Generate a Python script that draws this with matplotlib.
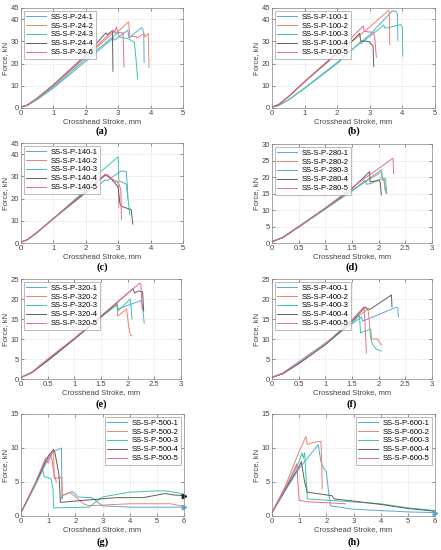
import matplotlib
matplotlib.use("Agg")
import matplotlib.pyplot as plt

plt.rcParams["font.family"] = ["Liberation Sans", "DejaVu Sans"]

# ---------------- data ----------------
COLORS = ["#5aa8d8", "#e8846e", "#3cc4ac", "#5e5e5e", "#ea6a90"]

# (a) SS-S-P-24
a_labels = ["SS-S-P-24-1", "SS-S-P-24-2", "SS-S-P-24-3", "SS-S-P-24-4", "SS-S-P-24-6"]
a_x = [
    [0, 0.2, 0.5, 1, 2, 2.85, 2.88, 3.3, 3.33, 3.72, 3.76, 3.79, 3.8],
    [0, 0.2, 0.5, 1, 2, 2.9, 2.93, 3.32, 3.36, 3.55, 3.58, 3.8, 3.83, 3.93, 3.95],
    [0, 0.2, 0.5, 1, 2, 3.0, 3.03, 3.35, 3.4, 3.5, 3.55, 3.6],
    [0, 0.2, 0.5, 1, 2, 2.62, 2.66, 2.82, 2.84],
    [0, 0.2, 0.5, 1, 2, 2.85, 2.88, 2.95, 2.98, 3.15, 3.18],
]
a_y = [
    [0.4, 1.2, 3.8, 9, 21, 31.5, 30.5, 35, 31.5, 36.2, 35.5, 33, 20.5],
    [0.4, 1.3, 4.2, 10, 23, 34.5, 33.5, 38.8, 32, 32.3, 31.5, 33.5, 32, 33.5, 18.3],
    [0.4, 1.2, 4, 9.5, 22, 34, 32, 31, 30.5, 29.5, 22, 13],
    [0.4, 1.4, 4.5, 10.5, 23.8, 33.8, 33, 34.8, 16.5],
    [0.4, 1.4, 4.4, 10.3, 23.3, 35, 34, 36.5, 34, 33.8, 18.5],
]

# (b) SS-S-P-100
b_labels = ["SS-S-P-100-1", "SS-S-P-100-2", "SS-S-P-100-3", "SS-S-P-100-4", "SS-S-P-100-5"]
b_x = [
    [0, 0.2, 0.5, 1, 2, 3, 3.7, 3.73, 3.8, 3.85, 3.86],
    [0, 0.2, 0.5, 1, 2, 3, 3.58, 3.6, 3.61],
    [0, 0.2, 0.5, 1, 2, 2.7, 2.73, 3.43, 3.46, 3.6, 3.65, 3.95, 4.0, 4.01],
    [0, 0.2, 0.5, 1, 2, 2.35, 2.38, 2.69, 2.72, 2.8, 3.0, 3.02, 3.1, 3.12],
    [0, 0.2, 0.5, 1, 2, 2.8, 2.83, 3.1, 3.15, 3.2],
]
b_y = [
    [0.4, 1.1, 3.6, 9, 20.5, 33, 43.8, 43.5, 43.6, 42, 30.5],
    [0.4, 1.5, 5, 11.8, 24.5, 36.5, 44, 43, 28.5],
    [0.4, 1.1, 3.6, 8.8, 20, 29.5, 29, 37.3, 36, 36.2, 36.5, 37.5, 36, 23.4],
    [0.4, 1.5, 5, 11.8, 24.5, 29.5, 29, 33.6, 30, 30.2, 29.8, 29, 28, 18.7],
    [0.4, 1.6, 5.2, 12, 25, 37, 34.5, 34, 32, 22.8],
]

# (c) SS-S-P-140
c_labels = ["SS-S-P-140-1", "SS-S-P-140-2", "SS-S-P-140-3", "SS-S-P-140-4", "SS-S-P-140-5"]
c_x = [
    [0, 0.2, 0.5, 1, 2, 2.2, 2.25, 2.6, 2.65, 3.1, 3.25, 3.28, 3.3],
    [0, 0.2, 0.5, 1, 2, 2.3, 2.6, 2.65, 2.8, 3.0, 3.02],
    [0, 0.2, 0.5, 1, 2, 2.2, 2.25, 3.0, 3.02, 3.25, 3.3, 3.36],
    [0, 0.2, 0.5, 1, 2, 2.6, 2.7, 2.9, 3.0, 3.05, 3.1, 3.4, 3.45],
    [0, 0.2, 0.5, 1, 2, 2.6, 2.65, 2.9, 3.0, 3.08, 3.1],
]
c_y = [
    [0.4, 1.5, 4.8, 11, 22.5, 25, 24, 28.5, 28, 32.5, 32, 26, 20],
    [0.4, 1.5, 4.8, 11, 23, 27.5, 30.5, 31, 29, 27, 16],
    [0.4, 1.5, 4.8, 11, 24, 27.5, 29.5, 38.8, 28, 26.5, 20, 12.7],
    [0.4, 1.5, 4.8, 11, 23, 30.5, 30, 27, 25, 18, 16.5, 15, 8.5],
    [0.4, 1.5, 4.8, 11, 23.5, 31, 30, 28, 27.5, 24, 10.6],
]

# (d) SS-S-P-280
d_labels = ["SS-S-P-280-1", "SS-S-P-280-2", "SS-S-P-280-3", "SS-S-P-280-4", "SS-S-P-280-5"]
d_x = [
    [0, 0.2, 0.5, 1, 1.5, 1.75, 1.77, 1.85, 2.05, 2.1, 2.12, 2.14],
    [0, 0.2, 0.5, 1, 1.5, 2.05, 2.07, 2.1, 2.12],
    [0, 0.2, 0.5, 1, 1.5, 2.05, 2.07, 2.13, 2.15],
    [0, 0.2, 0.5, 1, 1.5, 1.83, 1.84, 2.0, 2.03, 2.05],
    [0, 0.2, 0.5, 1, 1.5, 2.27, 2.28],
]
d_y = [
    [0.4, 1.6, 4.8, 10.4, 15.8, 19, 17.8, 18, 19.5, 19.3, 17, 15],
    [0.4, 1.6, 4.8, 10.4, 16, 21.5, 19, 19, 16],
    [0.4, 1.6, 4.8, 10.3, 15.8, 22.2, 19.8, 19.5, 15],
    [0.4, 1.7, 5, 10.6, 16.5, 21.6, 18.5, 19, 18.5, 14.6],
    [0.4, 1.6, 4.9, 10.6, 16.8, 25.7, 21],
]

# (e) SS-S-P-320
e_labels = ["SS-S-P-320-1", "SS-S-P-320-2", "SS-S-P-320-3", "SS-S-P-320-4", "SS-S-P-320-5"]
e_x = [
    [0, 0.2, 0.5, 1, 1.5, 1.8, 1.82, 2.25, 2.28, 2.31],
    [0, 0.2, 0.5, 1, 1.5, 1.8, 1.81, 1.95, 1.98, 2.02, 2.05, 2.08],
    [0, 0.2, 0.5, 1, 1.5, 1.8, 1.82, 2.05, 2.07, 2.08],
    [0, 0.2, 0.5, 1, 1.5, 2.1, 2.13, 2.2, 2.28, 2.3],
    [0, 0.2, 0.5, 1, 1.5, 2.23, 2.25, 2.27],
]
e_y = [
    [0.4, 1.6, 4.6, 10, 15.5, 18.8, 17.5, 19.6, 18, 14],
    [0.4, 1.6, 4.6, 10, 15.5, 19, 15.7, 17.2, 17.5, 13, 11, 10.8],
    [0.4, 1.6, 4.6, 10, 15.5, 18.5, 17, 20, 17, 15],
    [0.4, 1.6, 4.6, 10, 15.6, 22.6, 21.5, 22, 21.8, 17],
    [0.4, 1.7, 5, 10.2, 15.8, 24, 23.5, 17.5],
]

# (f) SS-S-P-400
f_labels = ["SS-S-P-400-1", "SS-S-P-400-2", "SS-S-P-400-3", "SS-S-P-400-4", "SS-S-P-400-5"]
f_x = [
    [0, 0.2, 0.5, 1, 1.5, 1.68, 1.7, 1.8, 2.34, 2.36, 2.37],
    [0, 0.2, 0.5, 1, 1.5, 1.8, 1.82, 1.85, 1.98, 2.0, 2.05],
    [0, 0.2, 0.5, 1, 1.5, 1.64, 1.66, 1.85, 1.87, 1.95, 2.05],
    [0, 0.2, 0.5, 1, 1.5, 1.75, 1.78, 1.85, 2.24, 2.25],
    [0, 0.2, 0.5, 1, 1.5, 1.72, 1.74, 1.77],
]
f_y = [
    [0.4, 1.5, 4.3, 9, 13.8, 15.5, 14.5, 15, 18, 17.5, 15.5],
    [0.4, 1.3, 3.8, 8.6, 14.5, 17.5, 15, 10, 10, 9.5, 8.5],
    [0.4, 1.4, 4, 8.6, 14, 16, 11.5, 12.5, 9, 7.5, 7],
    [0.4, 1.3, 3.8, 8.6, 14.5, 18, 17.5, 17.5, 21, 18],
    [0.4, 1.4, 4, 8.8, 14.8, 18, 15, 6.5],
]

# (g) SS-S-P-500
g_labels = ["SS-S-P-500-1", "SS-S-P-500-2", "SS-S-P-500-3", "SS-S-P-500-4", "SS-S-P-500-5"]
g_x = [
    [0, 0.5, 1.0, 1.2, 1.49, 1.51, 1.52, 1.9, 2.1, 2.6, 3.0, 4, 5, 6],
    [0, 0.5, 0.95, 1.2, 1.22, 1.5, 1.52, 1.7, 1.8, 2.3, 2.5, 4, 5.5, 6],
    [0, 0.5, 0.8, 0.85, 1.1, 1.18, 1.2, 2.5, 3, 4, 5, 5.3, 5.8, 6],
    [0, 0.5, 1.0, 1.2, 1.25, 1.4, 1.45, 2, 3.5, 4.5, 5.3, 5.6, 6],
    [0, 0.5, 0.9, 1.0, 1.1, 1.15, 1.2, 1.3],
]
g_y = [
    [0.5, 4.4, 8.4, 9.5, 10, 2.5, 3, 3.6, 2.8, 2.7, 1.5, 1.3, 1.3, 1.3],
    [0.5, 4.5, 8.5, 9.5, 5.5, 5.7, 3, 3.3, 3.5, 1.8, 1.5, 1.8, 1.8, 1.4],
    [0.5, 4.3, 6.8, 5.8, 5.5, 4, 1.2, 1.3, 2.8, 3.5, 3.7, 3.7, 3.4, 3.2],
    [0.5, 4.6, 8.8, 9.8, 9.3, 6, 2, 2.2, 2.7, 2.7, 3.3, 3.1, 3.0],
    [0.5, 4.6, 8.5, 7.8, 9, 8, 6.5, 5],
]

# (h) SS-S-P-600
h_labels = ["SS-S-P-600-1", "SS-S-P-600-2", "SS-S-P-600-3", "SS-S-P-600-4", "SS-S-P-600-5"]
h_x = [
    [0, 0.5, 1, 1.5, 1.7, 1.8, 1.9, 2.0, 2.1, 2.15, 3, 4, 5, 6],
    [0, 0.5, 1, 1.25, 1.3, 1.5, 1.8, 1.83, 1.85],
    [0, 0.5, 1, 1.1, 1.15, 1.2, 1.25, 1.3, 2.5, 4, 5, 6],
    [0, 0.5, 1, 1.08, 1.2, 1.3, 2.0, 2.2, 2.3, 3, 4, 5, 6],
    [0, 0.5, 0.92, 0.95, 1.0, 1.3, 1.8, 2.7],
]
h_y = [
    [0.5, 3.8, 7, 9.5, 10.5, 8, 7, 6.5, 3, 1.5, 1, 0.8, 0.6, 0.5],
    [0.5, 4.5, 9.5, 11.7, 10.5, 10.8, 11, 8, 4],
    [0.5, 4, 8, 9.3, 8.5, 9.3, 6, 2.5, 2.2, 1.8, 1.2, 0.8],
    [0.5, 4, 7.3, 8, 5, 3.5, 3.1, 3, 2.5, 2.2, 1.7, 1.1, 0.7],
    [0.5, 4.2, 7.7, 5, 2.3, 2.1, 2.0, 1.8],
]

panel_tags = ["(a)", "(b)", "(c)", "(d)", "(e)", "(f)", "(g)", "(h)"]

# ---------------- figure ----------------
W, H = 441, 550
fig = plt.figure(figsize=(W / 100, H / 100), dpi=100)

def px_axes(x0, y0, x1, y1):
    return fig.add_axes([x0 / W, 1 - y1 / H, (x1 - x0) / W, (y1 - y0) / H])

panels = [
    (a_x, a_y, a_labels, (21, 8, 183, 108), (0, 5), [0, 1, 2, 3, 4, 5], (0, 45), [0, 10, 20, 30, 40, 45], "upper left", [], 131),
    (b_x, b_y, b_labels, (272, 8, 435, 108), (0, 5), [0, 1, 2, 3, 4, 5], (0, 45), [0, 10, 20, 30, 40, 45], "upper left", [], 131),
    (c_x, c_y, c_labels, (21, 143, 183, 243), (0, 5), [0, 1, 2, 3, 4, 5], (0, 45), [0, 10, 20, 30, 40, 45], "upper left", [], 267),
    (d_x, d_y, d_labels, (272, 144, 432, 243), (0, 3), [0, 0.5, 1, 1.5, 2, 2.5, 3], (0, 30), [0, 5, 10, 15, 20, 25, 30], "upper left", [], 267),
    (e_x, e_y, e_labels, (21, 279, 181, 379), (0, 3), [0, 0.5, 1, 1.5, 2, 2.5, 3], (0, 25), [0, 5, 10, 15, 20, 25], "upper left", [], 404),
    (f_x, f_y, f_labels, (272, 279, 432, 379), (0, 3), [0, 0.5, 1, 1.5, 2, 2.5, 3], (0, 25), [0, 5, 10, 15, 20, 25], "upper left", [], 404),
    (g_x, g_y, g_labels, (21, 414, 184, 516), (0, 6), [0, 1, 2, 3, 4, 5, 6], (0, 15), [0, 5, 10, 15], "upper right", [0, 3], 542),
    (h_x, h_y, h_labels, (272, 414, 435, 516), (0, 6), [0, 1, 2, 3, 4, 5, 6], (0, 15), [0, 5, 10, 15], "upper right", [0], 542),
]

def fmt(v):
    return ("%g" % v)

for i, (xs, ys, labs, box, xl, xt, yl, yt, loc, marked, ty) in enumerate(panels):
    ax = px_axes(*box)
    for k in range(5):
        ax.plot(xs[k], ys[k], color=COLORS[k], lw=0.7, label=labs[k])
    for k in marked:
        mc = "#222222" if k == 3 else COLORS[k]
        ax.plot(xs[k][-1:], ys[k][-1:], ls="none", marker=">", markersize=3.2,
                color=mc, clip_on=False)
    ax.set_xlim(*xl)
    ax.set_ylim(*yl)
    ax.set_xticks(xt)
    ax.set_yticks(yt)
    ax.set_xticklabels([fmt(v) for v in xt])
    ax.set_yticklabels([fmt(v) for v in yt])
    ax.tick_params(labelsize=5.5, length=2, width=0.4, direction="in", pad=1.5,
                   colors="#444444", top=True, right=True)
    ax.grid(True, color="#cccccc", lw=0.4, ls=(0, (1.5, 1.5)))
    for s in ax.spines.values():
        s.set_color("#888888")
        s.set_linewidth(0.5)
    ax.set_xlabel("Crosshead Stroke, mm", fontsize=5.5, color="#444444", labelpad=1)
    ax.set_ylabel("Force, kN", fontsize=5.5, color="#444444", labelpad=1)
    leg = ax.legend(loc=loc, fontsize=5.5, frameon=True, fancybox=False,
                    handlelength=2.6, labelspacing=0.2, borderpad=0.35,
                    handletextpad=0.6, borderaxespad=0.35)
    leg.get_frame().set_edgecolor("#888888")
    leg.get_frame().set_linewidth(0.5)
    x0, y0, x1, y1 = box
    fig.text(((x0 + x1) / 2) / W, 1 - ty / H, panel_tags[i], ha="center", va="center",
             fontsize=7.5, fontweight="bold", family="Liberation Serif")

fig.savefig("out.png", dpi=100)
